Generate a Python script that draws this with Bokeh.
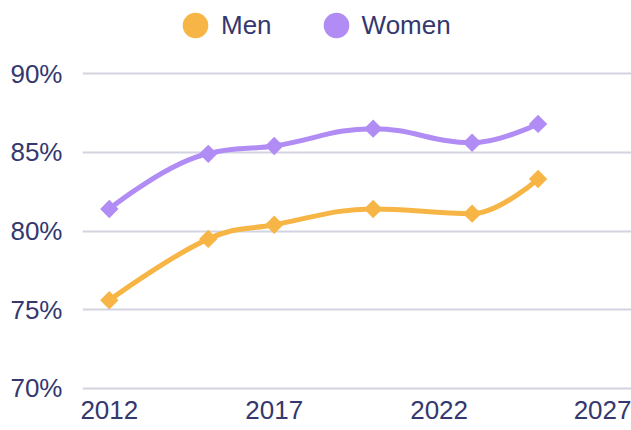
import math
from bokeh.plotting import figure
from bokeh.models import (FixedTicker, CustomJSTickFormatter, Legend, LegendItem,
                          ColumnDataSource)
from bokeh.embed import file_html
from bokeh.resources import INLINE

# ---- data ----
years = [2012, 2015, 2017, 2020, 2023, 2025]
men = [75.6, 79.5, 80.4, 81.4, 81.1, 83.3]
women = [81.4, 84.9, 85.4, 86.5, 85.6, 86.8]
series_names = ["Men", "Women"]
y_ticks = [70, 75, 80, 85, 90]
x_ticks = [2012, 2017, 2022, 2027]

MEN_COLOR = "#f6b545"
WOMEN_COLOR = "#b08cf4"
TEXT_COLOR = "#34386e"
GRID_COLOR = "#d3d3e2"
FONT = "Liberation Sans"


def spline_segments(xs, ys, smoothing=1.5):
    """Cubic bezier segments through the data points (spline-style smoothing)."""
    n = len(xs)
    lc = [(x, y) for x, y in zip(xs, ys)]
    rc = [(x, y) for x, y in zip(xs, ys)]
    denom = smoothing + 1
    for i in range(1, n - 1):
        lx, ly = xs[i - 1], ys[i - 1]
        px, py = xs[i], ys[i]
        nx, ny = xs[i + 1], ys[i + 1]
        lcx = (smoothing * px + lx) / denom
        lcy = (smoothing * py + ly) / denom
        rcx = (smoothing * px + nx) / denom
        rcy = (smoothing * py + ny) / denom
        if rcx != lcx:
            corr = ((rcy - lcy) * (rcx - px)) / (rcx - lcx) + py - rcy
            lcy += corr
            rcy += corr
        if lcy > ly and lcy > py:
            lcy = max(ly, py)
            rcy = 2 * py - lcy
        elif lcy < ly and lcy < py:
            lcy = min(ly, py)
            rcy = 2 * py - lcy
        if rcy > ny and rcy > py:
            rcy = max(ny, py)
            lcy = 2 * py - rcy
        elif rcy < ny and rcy < py:
            rcy = min(ny, py)
            lcy = 2 * py - rcy
        lc[i] = (lcx, lcy)
        rc[i] = (rcx, rcy)
    d = dict(x0=[], y0=[], x1=[], y1=[], cx0=[], cy0=[], cx1=[], cy1=[])
    for i in range(n - 1):
        d["x0"].append(xs[i]); d["y0"].append(ys[i])
        d["x1"].append(xs[i + 1]); d["y1"].append(ys[i + 1])
        d["cx0"].append(rc[i][0]); d["cy0"].append(rc[i][1])
        d["cx1"].append(lc[i + 1][0]); d["cy1"].append(lc[i + 1][1])
    return d


# frame: 390 px tall, 15.75 px per percentage point
p = figure(width=631, height=430, x_range=(2011.187, 2027.833), y_range=(69.873, 94.635),
           output_backend="svg", toolbar_location=None,
           min_border_left=82, min_border_right=0, min_border_top=0, min_border_bottom=40)
p.outline_line_color = None
p.background_fill_color = "white"
p.border_fill_color = "white"

# axes
p.xaxis.ticker = FixedTicker(ticks=x_ticks)
p.yaxis.ticker = FixedTicker(ticks=y_ticks)
p.yaxis.formatter = CustomJSTickFormatter(code="return tick + '%';")
for ax in (p.xaxis[0], p.yaxis[0]):
    ax.axis_line_color = None
    ax.major_tick_line_color = None
    ax.minor_tick_line_color = None
    ax.major_tick_in = 0
    ax.major_tick_out = 0
    ax.minor_tick_in = 0
    ax.minor_tick_out = 0
    ax.major_label_text_font = FONT
    ax.major_label_text_font_size = "26px"
    ax.major_label_text_color = TEXT_COLOR
p.xaxis.major_label_standoff = 10
p.yaxis.major_label_standoff = 20

p.xgrid.grid_line_color = None
p.ygrid.grid_line_color = GRID_COLOR
p.ygrid.grid_line_width = 2

# series
colors = [MEN_COLOR, WOMEN_COLOR]
legend_items = []
for name, vals, col in zip(series_names, [men, women], colors):
    seg = ColumnDataSource(spline_segments(years, vals))
    p.bezier(x0="x0", y0="y0", x1="x1", y1="y1", cx0="cx0", cy0="cy0",
             cx1="cx1", cy1="cy1", source=seg, line_color=col, line_width=5,
             line_cap="round", line_join="round")
    p.scatter(years, vals, marker="square", angle=math.pi / 4, size=13,
              fill_color=col, line_color=None)
    dummy = p.ellipse(x=[float("nan")], y=[float("nan")], width=1, height=1,
                      width_units="screen", height_units="screen",
                      fill_color=col, line_color=None)
    legend_items.append(LegendItem(label=name, renderers=[dummy]))

legend = Legend(items=legend_items, location=(97, 349), orientation="horizontal",
                glyph_width=32, glyph_height=32, label_standoff=10, spacing=48,
                padding=0, margin=0, border_line_color=None,
                background_fill_alpha=0,
                label_text_font=FONT, label_text_font_size="26px",
                label_text_color=TEXT_COLOR)
p.add_layout(legend)

open("out.html", "w").write(file_html(p, INLINE))
